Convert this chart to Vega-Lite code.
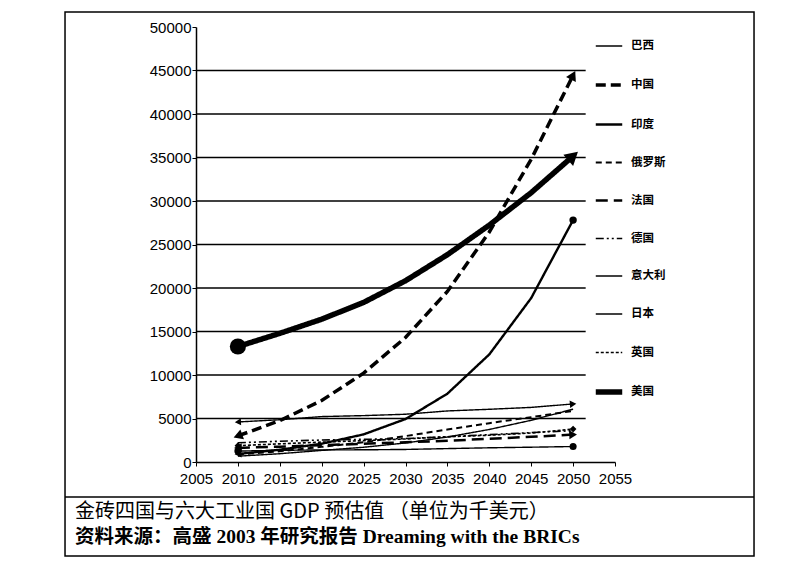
{
  "$schema": "https://vega.github.io/schema/vega-lite/v6.json",
  "width": 419,
  "height": 435,
  "autosize": {"type": "none"},
  "padding": {"left": 196, "top": 27, "right": 177, "bottom": 118},
  "background": "white",
  "config": {
    "view": {"stroke": null},
    "axisX": {"values": [2005, 2010, 2015, 2020, 2025, 2030, 2035, 2040, 2045, 2050, 2055], "format": "d", "title": null, "domain": true, "domainColor": "black", "domainWidth": 1.5, "grid": false, "ticks": true, "tickSize": 4, "tickColor": "black", "labelFont": "Liberation Sans", "labelFontSize": 15, "labelColor": "black", "labelPadding": 5, "labelFlush": false},
    "axisY": {"values": [0, 5000, 10000, 15000, 20000, 25000, 30000, 35000, 40000, 45000, 50000], "format": "d", "title": null, "domain": true, "domainColor": "black", "domainWidth": 1.5, "grid": false, "ticks": true, "tickSize": 4, "tickColor": "black", "labelFont": "Liberation Sans", "labelFontSize": 15, "labelColor": "black", "labelPadding": 1, "labelFlush": false}
  },
  "title": {
    "text": "金砖四国与六大工业国 GDP 预估值 （单位为千美元）",
    "subtitle": "资料来源：高盛 2003 年研究报告 Dreaming with the BRICs",
    "orient": "bottom",
    "anchor": "start",
    "frame": "group",
    "offset": -55,
    "dx": -121,
    "font": "Noto Sans CJK SC",
    "fontSize": 20,
    "fontWeight": "normal",
    "color": "black",
    "subtitleFont": "Liberation Serif, Noto Sans CJK SC",
    "subtitleFontSize": 19.5,
    "subtitleFontWeight": "bold",
    "subtitleColor": "black",
    "subtitlePadding": 6
  },
  "datasets": {
    "gdp": [
      {"country": "巴西", "year": 2010, "gdp": 668}, {"country": "巴西", "year": 2015, "gdp": 952}, {"country": "巴西", "year": 2020, "gdp": 1333}, {"country": "巴西", "year": 2025, "gdp": 1695}, {"country": "巴西", "year": 2030, "gdp": 2189}, {"country": "巴西", "year": 2035, "gdp": 2871}, {"country": "巴西", "year": 2040, "gdp": 3740}, {"country": "巴西", "year": 2045, "gdp": 4794}, {"country": "巴西", "year": 2050, "gdp": 6074},
      {"country": "中国", "year": 2010, "gdp": 2998}, {"country": "中国", "year": 2015, "gdp": 4754}, {"country": "中国", "year": 2020, "gdp": 7070}, {"country": "中国", "year": 2025, "gdp": 10213}, {"country": "中国", "year": 2030, "gdp": 14312}, {"country": "中国", "year": 2035, "gdp": 19605}, {"country": "中国", "year": 2040, "gdp": 26439}, {"country": "中国", "year": 2045, "gdp": 34799}, {"country": "中国", "year": 2050, "gdp": 44453},
      {"country": "印度", "year": 2010, "gdp": 929}, {"country": "印度", "year": 2015, "gdp": 1411}, {"country": "印度", "year": 2020, "gdp": 2104}, {"country": "印度", "year": 2025, "gdp": 3174}, {"country": "印度", "year": 2030, "gdp": 4935}, {"country": "印度", "year": 2035, "gdp": 7854}, {"country": "印度", "year": 2040, "gdp": 12367}, {"country": "印度", "year": 2045, "gdp": 18847}, {"country": "印度", "year": 2050, "gdp": 27803},
      {"country": "俄罗斯", "year": 2010, "gdp": 847}, {"country": "俄罗斯", "year": 2015, "gdp": 1232}, {"country": "俄罗斯", "year": 2020, "gdp": 1741}, {"country": "俄罗斯", "year": 2025, "gdp": 2264}, {"country": "俄罗斯", "year": 2030, "gdp": 2980}, {"country": "俄罗斯", "year": 2035, "gdp": 3734}, {"country": "俄罗斯", "year": 2040, "gdp": 4467}, {"country": "俄罗斯", "year": 2045, "gdp": 5156}, {"country": "俄罗斯", "year": 2050, "gdp": 5870},
      {"country": "法国", "year": 2010, "gdp": 1622}, {"country": "法国", "year": 2015, "gdp": 1767}, {"country": "法国", "year": 2020, "gdp": 1930}, {"country": "法国", "year": 2025, "gdp": 2096}, {"country": "法国", "year": 2030, "gdp": 2267}, {"country": "法国", "year": 2035, "gdp": 2445}, {"country": "法国", "year": 2040, "gdp": 2668}, {"country": "法国", "year": 2045, "gdp": 2898}, {"country": "法国", "year": 2050, "gdp": 3148},
      {"country": "德国", "year": 2010, "gdp": 2212}, {"country": "德国", "year": 2015, "gdp": 2386}, {"country": "德国", "year": 2020, "gdp": 2524}, {"country": "德国", "year": 2025, "gdp": 2604}, {"country": "德国", "year": 2030, "gdp": 2697}, {"country": "德国", "year": 2035, "gdp": 2903}, {"country": "德国", "year": 2040, "gdp": 3147}, {"country": "德国", "year": 2045, "gdp": 3381}, {"country": "德国", "year": 2050, "gdp": 3603},
      {"country": "意大利", "year": 2010, "gdp": 1255}, {"country": "意大利", "year": 2015, "gdp": 1345}, {"country": "意大利", "year": 2020, "gdp": 1386}, {"country": "意大利", "year": 2025, "gdp": 1403}, {"country": "意大利", "year": 2030, "gdp": 1443}, {"country": "意大利", "year": 2035, "gdp": 1541}, {"country": "意大利", "year": 2040, "gdp": 1633}, {"country": "意大利", "year": 2045, "gdp": 1701}, {"country": "意大利", "year": 2050, "gdp": 1779},
      {"country": "日本", "year": 2010, "gdp": 4601}, {"country": "日本", "year": 2015, "gdp": 4858}, {"country": "日本", "year": 2020, "gdp": 5221}, {"country": "日本", "year": 2025, "gdp": 5331}, {"country": "日本", "year": 2030, "gdp": 5490}, {"country": "日本", "year": 2035, "gdp": 5869}, {"country": "日本", "year": 2040, "gdp": 6060}, {"country": "日本", "year": 2045, "gdp": 6275}, {"country": "日本", "year": 2050, "gdp": 6673},
      {"country": "英国", "year": 2010, "gdp": 1876}, {"country": "英国", "year": 2015, "gdp": 2089}, {"country": "英国", "year": 2020, "gdp": 2285}, {"country": "英国", "year": 2025, "gdp": 2456}, {"country": "英国", "year": 2030, "gdp": 2649}, {"country": "英国", "year": 2035, "gdp": 2901}, {"country": "英国", "year": 2040, "gdp": 3076}, {"country": "英国", "year": 2045, "gdp": 3331}, {"country": "英国", "year": 2050, "gdp": 3782},
      {"country": "美国", "year": 2010, "gdp": 13271}, {"country": "美国", "year": 2015, "gdp": 14786}, {"country": "美国", "year": 2020, "gdp": 16415}, {"country": "美国", "year": 2025, "gdp": 18340}, {"country": "美国", "year": 2030, "gdp": 20833}, {"country": "美国", "year": 2035, "gdp": 23828}, {"country": "美国", "year": 2040, "gdp": 27229}, {"country": "美国", "year": 2045, "gdp": 30956}, {"country": "美国", "year": 2050, "gdp": 35165}
    ],
    "grid": [{"v": 5000}, {"v": 10000}, {"v": 15000}, {"v": 20000}, {"v": 25000}, {"v": 30000}, {"v": 35000}, {"v": 40000}, {"v": 45000}]
  },
  "resolve": {"scale": {"size": "independent", "shape": "independent", "angle": "independent"}},
  "layer": [
    {
      "data": {"values": [{}]},
      "mark": {"type": "rect", "fill": null, "fillOpacity": 0, "stroke": "black", "strokeWidth": 1.5, "clip": false},
      "encoding": {
        "x": {"datum": 1989.37, "type": "quantitative", "scale": {"domain": [2005, 2055], "nice": false, "zero": false}, "axis": {"title": null}},
        "x2": {"datum": 2071.59},
        "y": {"datum": 51724, "type": "quantitative", "scale": {"domain": [0, 50000], "nice": false, "zero": false}, "axis": {"title": null}},
        "y2": {"datum": -10805}
      }
    },
    {
      "data": {"values": [{}]},
      "mark": {"type": "rule", "stroke": "black", "strokeWidth": 1.5, "clip": false},
      "encoding": {
        "x": {"datum": 1989.37, "type": "quantitative", "scale": {"domain": [2005, 2055], "nice": false, "zero": false}, "axis": {"title": null}},
        "x2": {"datum": 2071.59},
        "y": {"datum": -4023, "type": "quantitative", "scale": {"domain": [0, 50000], "nice": false, "zero": false}, "axis": {"title": null}}
      }
    },
    {
      "data": {"name": "grid"},
      "mark": {"type": "rule", "stroke": "black", "strokeWidth": 1.3},
      "encoding": {
        "x": {"datum": 2005, "type": "quantitative", "scale": {"domain": [2005, 2055], "nice": false, "zero": false}, "axis": {"title": null}},
        "x2": {"datum": 2051.5},
        "y": {"field": "v", "type": "quantitative", "scale": {"domain": [0, 50000], "nice": false, "zero": false}, "axis": {"title": null}}
      }
    },
    {
      "data": {"name": "gdp"},
      "mark": {"type": "line", "stroke": "black"},
      "encoding": {
        "x": {"field": "year", "type": "quantitative", "scale": {"domain": [2005, 2055], "nice": false, "zero": false}, "axis": {"title": null}},
        "y": {"field": "gdp", "type": "quantitative", "scale": {"domain": [0, 50000], "nice": false, "zero": false}, "axis": {"title": null}},
        "strokeDash": {"field": "country", "type": "nominal",
          "scale": {"domain": ["巴西", "中国", "印度", "俄罗斯", "法国", "德国", "意大利", "日本", "英国", "美国"],
            "range": [[1, 0], [10, 5], [1, 0], [6, 4], [12, 6], [8, 3, 2, 3, 2, 3], [1, 0], [1, 0], [3, 2], [1, 0]]},
          "legend": {"title": null, "orient": "none", "legendX": 397, "legendY": 5, "direction": "vertical", "symbolType": "stroke", "symbolSize": 700, "symbolStrokeColor": "black", "labelFont": "Noto Sans CJK SC", "labelFontSize": 11.5, "labelFontWeight": "bold", "labelColor": "black", "labelOffset": 6, "rowPadding": 18}},
        "strokeWidth": {"field": "country", "type": "nominal",
          "scale": {"type": "ordinal", "domain": ["巴西", "中国", "印度", "俄罗斯", "法国", "德国", "意大利", "日本", "英国", "美国"],
            "range": [1.4, 3.5, 2.4, 2, 2.5, 1.6, 1.4, 1.4, 1.6, 5.5]},
          "legend": {"title": null, "orient": "none", "legendX": 397, "legendY": 5, "direction": "vertical", "symbolType": "stroke", "symbolSize": 700, "symbolStrokeColor": "black", "labelFont": "Noto Sans CJK SC", "labelFontSize": 11.5, "labelFontWeight": "bold", "labelColor": "black", "labelOffset": 6, "rowPadding": 18}}
      }
    },
    {
      "data": {"name": "gdp"},
      "transform": [{"filter": "datum.year == 2010"}],
      "mark": {"type": "point", "filled": true, "fill": "black", "strokeWidth": 0, "opacity": 1},
      "encoding": {
        "x": {"field": "year", "type": "quantitative", "scale": {"domain": [2005, 2055], "nice": false, "zero": false}, "axis": {"title": null}},
        "y": {"field": "gdp", "type": "quantitative", "scale": {"domain": [0, 50000], "nice": false, "zero": false}, "axis": {"title": null}},
        "shape": {"field": "country", "type": "nominal", "legend": null,
          "scale": {"domain": ["巴西", "中国", "印度", "俄罗斯", "法国", "德国", "意大利", "日本", "英国", "美国"],
            "range": ["circle", "triangle-left", "triangle-left", "circle", "triangle-left", "circle", "circle", "triangle-left", "diamond", "circle"]}},
        "size": {"field": "country", "type": "nominal", "legend": null,
          "scale": {"type": "ordinal", "domain": ["巴西", "中国", "印度", "俄罗斯", "法国", "德国", "意大利", "日本", "英国", "美国"],
            "range": [0, 110, 60, 0, 80, 0, 50, 50, 45, 260]}},
        "angle": {"field": "country", "type": "nominal", "legend": null,
          "scale": {"type": "ordinal", "domain": ["巴西", "中国", "印度", "俄罗斯", "法国", "德国", "意大利", "日本", "英国", "美国"],
            "range": [0, -20, -5, 0, -1, 0, 0, -3, 0, 0]}}
      }
    },
    {
      "data": {"name": "gdp"},
      "transform": [{"filter": "datum.year == 2050"}],
      "mark": {"type": "point", "filled": true, "fill": "black", "strokeWidth": 0, "opacity": 1},
      "encoding": {
        "x": {"field": "year", "type": "quantitative", "scale": {"domain": [2005, 2055], "nice": false, "zero": false}, "axis": {"title": null}},
        "y": {"field": "gdp", "type": "quantitative", "scale": {"domain": [0, 50000], "nice": false, "zero": false}, "axis": {"title": null}},
        "shape": {"field": "country", "type": "nominal", "legend": null,
          "scale": {"domain": ["巴西", "中国", "印度", "俄罗斯", "法国", "德国", "意大利", "日本", "英国", "美国"],
            "range": ["circle", "triangle-right", "circle", "circle", "triangle-right", "circle", "circle", "triangle-right", "diamond", "triangle-right"]}},
        "size": {"field": "country", "type": "nominal", "legend": null,
          "scale": {"type": "ordinal", "domain": ["巴西", "中国", "印度", "俄罗斯", "法国", "德国", "意大利", "日本", "英国", "美国"],
            "range": [0, 120, 55, 0, 80, 0, 50, 55, 45, 220]}},
        "angle": {"field": "country", "type": "nominal", "legend": null,
          "scale": {"type": "ordinal", "domain": ["巴西", "中国", "印度", "俄罗斯", "法国", "德国", "意大利", "日本", "英国", "美国"],
            "range": [0, -63, 0, 0, -3, 0, 0, -5, 0, -41]}}
      }
    }
  ]
}
